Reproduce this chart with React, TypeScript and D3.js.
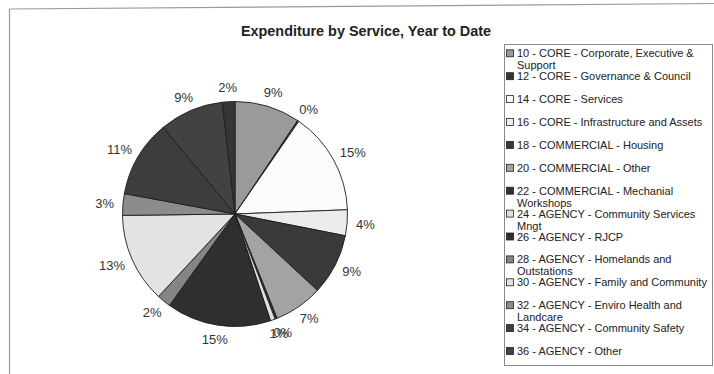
import React, { useMemo } from 'react';
import * as d3 from 'd3';

const title = 'Expenditure by Service, Year to Date';

const categories = [
  '10 - CORE - Corporate, Executive & Support',
  '12 - CORE - Governance & Council',
  '14 - CORE - Services',
  '16 - CORE - Infrastructure and Assets',
  '18 - COMMERCIAL - Housing',
  '20 - COMMERCIAL - Other',
  '22 - COMMERCIAL - Mechanial Workshops',
  '24 - AGENCY - Community Services Mngt',
  '26 - AGENCY - RJCP',
  '28 - AGENCY - Homelands and Outstations',
  '30 - AGENCY - Family and Community',
  '32 - AGENCY - Enviro Health and Landcare',
  '34 - AGENCY - Community Safety',
  '36 - AGENCY - Other',
  '38 - (not shown in legend)',
];

// share of year-to-date expenditure (%)
const shares = [9.4, 0.2, 14.8, 3.7, 8.8, 7.0, 0.3, 0.7, 15.0, 2.0, 12.9, 3.1, 11.1, 9.2, 1.8];

const sliceColors = [
  '#9a9a9a', '#353535', '#fbfbfb', '#ececec', '#3a3a3a',
  '#a3a3a3', '#333333', '#dedede', '#2f2f2f', '#858585',
  '#e3e3e3', '#8c8c8c', '#3d3d3d', '#424242', '#363636',
];

const legendShown = 14;

const FONT = '"Liberation Sans", Arial, Helvetica, sans-serif';

let ctxCache: CanvasRenderingContext2D | null = null;
function measure(text: string, font: string): number {
  if (!ctxCache) {
    const canvas = document.createElement('canvas');
    ctxCache = canvas.getContext('2d');
  }
  if (!ctxCache) return text.length * 6;
  ctxCache.font = font;
  return ctxCache.measureText(text).width;
}

function wrapText(text: string, maxW: number, font: string): string[] {
  const words = text.split(' ');
  const lines: string[] = [];
  let cur = '';
  for (const w of words) {
    const t = cur ? cur + ' ' + w : w;
    if (cur && measure(t, font) > maxW) {
      lines.push(cur);
      cur = w;
    } else cur = t;
  }
  if (cur) lines.push(cur);
  return lines;
}

export default function App() {
  const W = 714, H = 374;
  const cx = 235, cy = 214, R = 112.5;

  const arcs = useMemo(() => d3.pie<number>().sort(null).value((d) => d)(shares), []);
  const total = d3.sum(shares);
  const arcGen = d3.arc<d3.PieArcDatum<number>>().innerRadius(0).outerRadius(R);
  const fmt = (v: number) => `${Math.round((v / total) * 100)}%`;

  const legendX = 504.5, legendY = 44.5, legendW = 208, legendH = 321;
  const rowH = 22.9;
  const firstBase = 57.3;
  const legendFont = `11px ${FONT}`;
  const labelSize = 13;
  const labelFont = `${labelSize}px ${FONT}`;

  return (
    <svg width={W} height={H} style={{ position: 'absolute', left: 0, top: 0, background: '#fff' }}>
      <rect x={0} y={0} width={W} height={H} fill="#ffffff" />
      {/* chart area border */}
      <line x1={9.5} y1={9} x2={W} y2={3.5} stroke="#9a9a9a" strokeWidth={1.2} />
      <line x1={9.5} y1={9} x2={9.5} y2={H} stroke="#9a9a9a" strokeWidth={1.2} />

      <text x={366} y={36} textAnchor="middle" fontFamily={FONT} fontWeight="bold" fontSize={14.4} fill="#222">
        {title}
      </text>

      <g transform={`translate(${cx},${cy})`}>
        {arcs.map((a, i) => (
          <path key={i} d={arcGen(a) || ''} fill={sliceColors[i]} stroke="#1e1e1e" strokeWidth={0.9} strokeLinejoin="round" />
        ))}
      </g>

      {arcs.map((a, i) => {
        const mid = (a.startAngle + a.endAngle) / 2;
        const label = fmt(a.data);
        const w = measure(label, labelFont);
        const h = labelSize;
        const rp = R + 8;
        const x = cx + rp * Math.sin(mid) + Math.sin(mid) * (w / 2 + 1);
        const y = cy - rp * Math.cos(mid) - Math.cos(mid) * (h / 2);
        return (
          <text key={i} x={x} y={y} dy="0.35em" textAnchor="middle" fontFamily={FONT} fontSize={labelSize} fill="#333">
            {label}
          </text>
        );
      })}

      <rect x={legendX} y={legendY} width={legendW} height={legendH} fill="#fff" stroke="#8a8a8a" strokeWidth={1} />
      {categories.slice(0, legendShown).map((c, i) => {
        const base = firstBase + rowH * i;
        const lines = wrapText(c, 196, legendFont);
        return (
          <g key={i}>
            <rect x={506.5} y={base - 7.5} width={7} height={7} fill={sliceColors[i]} stroke="#222" strokeWidth={0.8} />
            <text x={517} y={base} fontFamily={FONT} fontSize={11} fill="#222">
              {lines.map((l, j) => (
                <tspan key={j} x={517} y={base + j * 12}>
                  {l}
                </tspan>
              ))}
            </text>
          </g>
        );
      })}
    </svg>
  );
}
